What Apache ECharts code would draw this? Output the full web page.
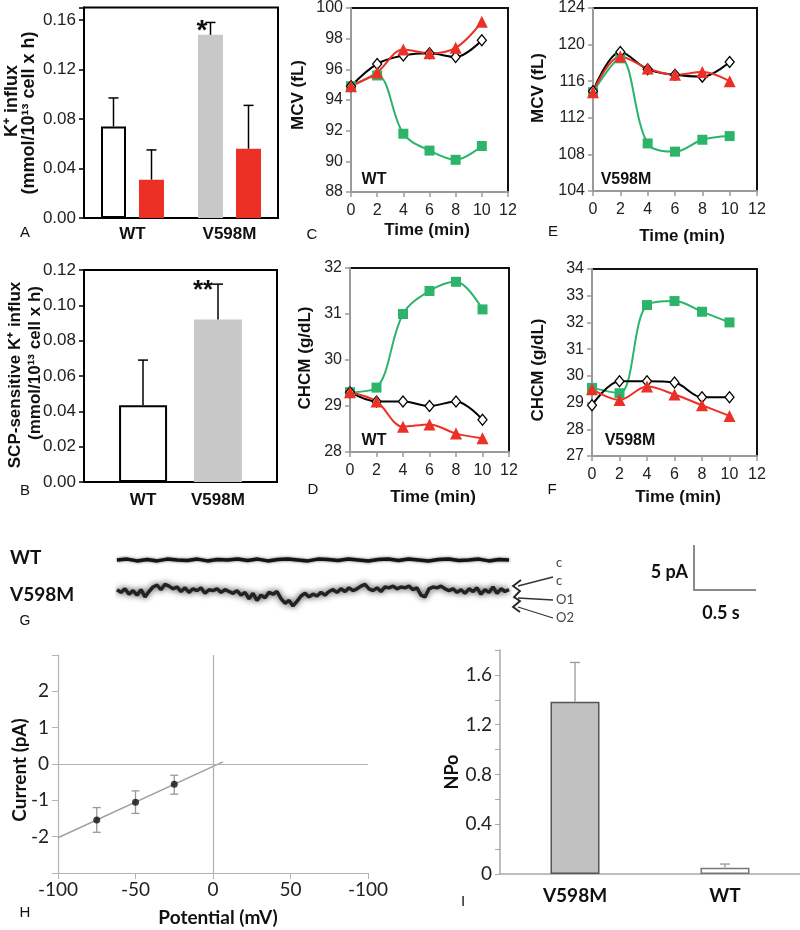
<!DOCTYPE html>
<html><head><meta charset="utf-8">
<script src="https://cdn.jsdelivr.net/npm/echarts@6/dist/echarts.min.js"></script>
<style>html,body{margin:0;padding:0;background:#fff}#c{width:800px;height:930px}</style>
</head><body><div id="c"></div>
<script>
// ---------- Panel A ----------
const aGroups = ['WT', 'V598M'];
const aBase = [0.074, 0.148];
const aBaseErr = [0.023, 0.010];
const aTreat = [0.031, 0.056];
const aTreatErr = [0.024, 0.035];
// ---------- Panel B ----------
const bGroups = ['WT', 'V598M'];
const bValues = [0.0435, 0.092];
const bErr = [0.0255, 0.020];
// ---------- Panels C-F ----------
const times = [0, 2, 4, 6, 8, 10];
const cBlack = [94.9, 96.35, 96.9, 97.05, 96.8, 97.9];
const cRed = [94.9, 95.8, 97.3, 97.05, 97.4, 99.1];
const cGreen = [94.9, 95.6, 91.8, 90.7, 90.1, 91.0];
const eBlack = [114.9, 119.2, 117.3, 116.7, 116.5, 118.1];
const eRed = [114.8, 118.7, 117.4, 116.7, 117.0, 116.0];
const eGreen = [114.8, 118.5, 109.2, 108.3, 109.6, 110.0];
const dBlack = [29.3, 29.1, 29.1, 29.0, 29.1, 28.7];
const dRed = [29.3, 29.1, 28.55, 28.6, 28.4, 28.3];
const dGreen = [29.3, 29.4, 31.0, 31.5, 31.7, 31.1];
const fBlack = [28.9, 29.8, 29.8, 29.75, 29.2, 29.2];
const fRed = [29.5, 29.1, 29.6, 29.3, 28.9, 28.5];
const fGreen = [29.55, 29.35, 32.65, 32.8, 32.4, 32.0];
// ---------- Panel G (single-channel traces, pA) ----------
const gWT = [0, 0.1, -0.1, 0.05, -0.1, 0.1, 0, -0.05, 0.1, -0.1, 0.05, 0, 0.1, -0.05, 0.1, -0.1, 0.05, 0.1, 0, -0.1,
  0.1, 0.05, -0.05, 0.1, 0, -0.1, 0.05, 0.1, -0.05, 0.1, 0, -0.1, 0.05, 0.1, -0.05, 0, 0.1, -0.1, 0.05, 0];
const gV598M = [-3.3, -3.6, -3.2, -3.8, -3.4, -3.9, -3.3, -4.1, -3.5, -3.0, -2.8, -3.3, -2.7, -2.9, -3.2, -3.0, -3.5, -3.1, -3.6, -3.2,
  -3.4, -3.1, -3.7, -3.3, -3.4, -3.2, -3.6, -3.3, -3.5, -3.7, -3.4, -3.9, -3.6, -4.3, -3.7, -4.5, -3.9, -4.2, -3.6, -3.8,
  -3.5, -4.3, -4.8, -4.5, -5.1, -4.6, -4.0, -3.7, -4.1, -3.8, -4.0, -3.6, -3.9, -3.5, -3.3, -3.6, -3.2, -3.5, -3.1, -3.4,
  -3.2, -2.9, -2.7, -3.2, -3.4, -3.1, -3.5, -3.0, -3.1, -2.9, -3.2, -3.0, -3.1, -2.9, -3.3, -3.1, -3.9, -4.1, -3.2, -3.0,
  -3.1, -2.9, -3.2, -3.4, -3.2, -3.6, -3.3, -3.7, -3.2, -3.5, -3.1, -3.8, -3.3, -3.6, -3.0, -3.7, -3.2, -3.5, -3.3];
const gStateLabels = ['c', 'c', 'O1', 'O2'];
// ---------- Panel H ----------
const hVoltage = [-75, -50, -25];
const hCurrent = [-1.54, -1.05, -0.56];
const hLow = [-1.88, -1.36, -0.83];
const hHigh = [-1.20, -0.74, -0.31];
const hFitX = [-100, 6.4];
const hFitY = [-2.03, 0.06];
const hXTickLabels = ['-100', '-50', '0', '50', '-100'];
// ---------- Panel I ----------
const iGroups = ['V598M', 'WT'];
const iValues = [1.385, 0.05];
const iErr = [0.315, 0.03];

// ---------- styling ----------
const FA = '"Liberation Sans", Arial, sans-serif';
const FL = 'Lato, "Open Sans", sans-serif';
const RED = '#ec3025', GREEN = '#2cb46b', GRAYBAR = '#c8c8c8';

function txt(x, y, text, font, align, rot, color) {
  return { type: 'text', x: x, y: y, rotation: rot || 0, z: 100,
    style: { text: text, font: font, fill: color || '#111', textAlign: align || 'center', textVerticalAlign: 'middle' } };
}
function ln(x1, y1, x2, y2, color, w) {
  return { type: 'line', z: 100, shape: { x1: x1, y1: y1, x2: x2, y2: y2 }, style: { stroke: color, lineWidth: w } };
}
function errRender(color, width, cap, offset, lowerCap) {
  return function (params, api) {
    const top = api.coord([api.value(0), api.value(2)]);
    const bot = api.coord([api.value(0), api.value(1)]);
    const x = top[0] + offset;
    const ch = [
      { type: 'line', shape: { x1: x, y1: bot[1], x2: x, y2: top[1] }, style: { stroke: color, lineWidth: width } },
      { type: 'line', shape: { x1: x - cap, y1: top[1], x2: x + cap, y2: top[1] }, style: { stroke: color, lineWidth: width } }
    ];
    if (lowerCap) ch.push({ type: 'line', shape: { x1: x - cap, y1: bot[1], x2: x + cap, y2: bot[1] }, style: { stroke: color, lineWidth: width } });
    return { type: 'group', children: ch };
  };
}
const markerStyles = {
  black: { symbol: 'diamond', symbolSize: [9, 11], itemStyle: { color: '#fff', borderColor: '#000', borderWidth: 1.3 }, lineStyle: { color: '#000', width: 2 } },
  red: { symbol: 'triangle', symbolSize: 12, itemStyle: { color: RED }, lineStyle: { color: RED, width: 2 } },
  green: { symbol: 'rect', symbolSize: 10, itemStyle: { color: GREEN }, lineStyle: { color: GREEN, width: 2 } }
};
function timeSeries(vals, kind, idx) {
  const s = markerStyles[kind];
  return { type: 'line', xAxisIndex: idx, yAxisIndex: idx, smooth: 0.35, showSymbol: true,
    symbol: s.symbol, symbolSize: s.symbolSize, itemStyle: s.itemStyle, lineStyle: s.lineStyle,
    data: times.map((t, i) => [t, vals[i]]), z: 3 };
}

// grids
const grids = [
  { left: 84, top: 7.6, width: 194, height: 210.4, show: true, borderColor: '#000', borderWidth: 2 },   // 0 A
  { left: 84, top: 270, width: 193, height: 212, show: true, borderColor: '#000', borderWidth: 2 },     // 1 B
  { left: 351, top: 5, width: 157, height: 187, show: true, borderColor: '#111', borderWidth: 2 },      // 2 C
  { left: 593, top: 6, width: 164, height: 185, show: true, borderColor: '#111', borderWidth: 2 },      // 3 E
  { left: 350, top: 268, width: 159, height: 184, show: true, borderColor: '#111', borderWidth: 2 },    // 4 D
  { left: 592, top: 269, width: 165, height: 187, show: true, borderColor: '#111', borderWidth: 2 },    // 5 F
  { left: 117, top: 551, width: 392, height: 63 },                                                      // 6 G
  { left: 58, top: 655, width: 310, height: 218 },                                                      // 7 H
  { left: 500, top: 650, width: 324, height: 224 }                                                      // 8 I
];

const blackAxis = { lineStyle: { color: '#000', width: 2 } };
function yBox(gi, min, max, interval, digits, fs) {
  return { type: 'value', gridIndex: gi, min: min, max: max, interval: interval,
    axisLine: { show: true, lineStyle: { color: '#000', width: 2 } },
    axisTick: { show: true, length: 5, lineStyle: { color: '#000', width: 1.5 } },
    splitLine: { show: false },
    axisLabel: { fontFamily: FA, fontSize: fs, color: '#222', margin: 8,
      formatter: v => (Math.abs(v / interval - Math.round(v / interval)) < 1e-6 ? v.toFixed(digits) : '') } };
}
function xTime(gi) {
  return { type: 'value', gridIndex: gi, min: 0, max: 12, interval: 2,
    axisLine: { show: true, onZero: false, lineStyle: { color: '#9a9a9a', width: 2 } },
    axisTick: { show: true, length: 5, lineStyle: { color: '#9a9a9a', width: 1.5 } },
    splitLine: { show: false },
    axisLabel: { fontFamily: FA, fontSize: 16, color: '#222', margin: 11 } };
}
function yTime(gi, min, max, interval) {
  return { type: 'value', gridIndex: gi, min: min, max: max, interval: interval,
    axisLine: { show: true, onZero: false, lineStyle: { color: '#9a9a9a', width: 2 } },
    axisTick: { show: true, length: 5, lineStyle: { color: '#9a9a9a', width: 1.5 } },
    splitLine: { show: false },
    axisLabel: { fontFamily: FA, fontSize: 16, color: '#222', margin: 8 } };
}

const xAxes = [
  { type: 'category', gridIndex: 0, data: aGroups, axisLine: blackAxis, axisTick: { show: false },
    axisLabel: { fontFamily: FA, fontWeight: 'bold', fontSize: 17, color: '#111', margin: 8 } },
  { type: 'category', gridIndex: 1, data: [''], axisLine: blackAxis, axisTick: { show: false }, axisLabel: { show: false } },
  xTime(2), xTime(3), xTime(4), xTime(5),
  { type: 'category', gridIndex: 6, data: gWT.map((_, i) => i), boundaryGap: false, show: false },
  { type: 'category', gridIndex: 6, data: gV598M.map((_, i) => i), boundaryGap: false, show: false, position: 'top' },
  { type: 'value', gridIndex: 7, min: -100, max: 100, interval: 50,
    axisLine: { show: true, onZero: false, lineStyle: { color: '#b4b4b4', width: 1.2 } },
    axisTick: { show: true, length: 6, lineStyle: { color: '#b4b4b4' } }, splitLine: { show: false },
    axisLabel: { fontFamily: FL, fontSize: 19, color: '#222', margin: 7, formatter: v => hXTickLabels[Math.round((v + 100) / 50)] } },
  { type: 'category', gridIndex: 8, data: iGroups,
    axisLine: { show: true, lineStyle: { color: '#a8a8a8', width: 1.5 } }, axisTick: { show: false },
    axisLabel: { fontFamily: FL, fontWeight: 'bold', fontSize: 19, color: '#111', margin: 12 } }
];
const yAxes = [
  yBox(0, 0, 0.17, 0.04, 2, 17),
  yBox(1, 0, 0.12, 0.02, 2, 17),
  yTime(2, 88, 100, 2),
  yTime(3, 104, 124, 4),
  yTime(4, 28, 32, 1),
  yTime(5, 27, 34, 1),
  { type: 'value', gridIndex: 6, min: -6, max: 1, show: false },
  { type: 'value', gridIndex: 7, min: -3, max: 3, interval: 1,
    axisLine: { show: true, onZero: false, lineStyle: { color: '#b4b4b4', width: 1.2 } },
    axisTick: { show: true, length: 6, lineStyle: { color: '#b4b4b4' } }, splitLine: { show: false },
    axisLabel: { fontFamily: FL, fontSize: 19, color: '#222', margin: 9, formatter: v => (Math.abs(v) === 3 ? '' : String(v)) } },
  { type: 'value', gridIndex: 8, min: 0, max: 1.8, interval: 0.2,
    axisLine: { show: true, lineStyle: { color: '#a8a8a8', width: 1.5 } },
    axisTick: { show: true, length: 5, lineStyle: { color: '#a8a8a8' } }, splitLine: { show: false },
    axisLabel: { fontFamily: FL, fontSize: 19, color: '#222', margin: 8,
      formatter: v => { const k = Math.round(v * 10); return k % 4 === 0 ? (k === 0 ? '0' : String(+v.toFixed(1))) : ''; } } }
];

const series = [
  // A bars
  { type: 'bar', xAxisIndex: 0, yAxisIndex: 0, barWidth: 25, barGap: '52%',
    data: aBase.map((v, i) => ({ value: v, itemStyle: i === 0 ? { color: '#fff', borderColor: '#000', borderWidth: 2 } : { color: GRAYBAR } })) },
  { type: 'bar', xAxisIndex: 0, yAxisIndex: 0, barWidth: 25, barGap: '52%', itemStyle: { color: RED }, data: aTreat },
  { type: 'custom', xAxisIndex: 0, yAxisIndex: 0, renderItem: errRender('#000', 1.5, 5, -19, false), z: 5,
    data: aBase.map((v, i) => [i, v, v + aBaseErr[i]]) },
  { type: 'custom', xAxisIndex: 0, yAxisIndex: 0, renderItem: errRender('#000', 1.5, 5, 19, false), z: 5,
    data: aTreat.map((v, i) => [i, v, v + aTreatErr[i]]) },
  // B bars (one category, two series)
  { type: 'bar', name: bGroups[0], xAxisIndex: 1, yAxisIndex: 1, barWidth: 48, barGap: '56%',
    itemStyle: { color: '#fff', borderColor: '#000', borderWidth: 2 }, data: [bValues[0]],
    label: { show: true, position: 'bottom', distance: 10, formatter: '{a}', fontFamily: FA, fontWeight: 'bold', fontSize: 17, color: '#111' } },
  { type: 'bar', name: bGroups[1], xAxisIndex: 1, yAxisIndex: 1, barWidth: 48, barGap: '56%',
    itemStyle: { color: GRAYBAR }, data: [bValues[1]],
    label: { show: true, position: 'bottom', distance: 10, formatter: '{a}', fontFamily: FA, fontWeight: 'bold', fontSize: 17, color: '#111' } },
  { type: 'custom', xAxisIndex: 1, yAxisIndex: 1, renderItem: errRender('#000', 1.5, 5, -37.5, false), z: 5,
    data: [[0, bValues[0], bValues[0] + bErr[0]]] },
  { type: 'custom', xAxisIndex: 1, yAxisIndex: 1, renderItem: errRender('#000', 1.5, 5, 37.5, false), z: 5,
    data: [[0, bValues[1], bValues[1] + bErr[1]]] },
  // C (idx 2), E (3), D (4), F (5)
  timeSeries(cGreen, 'green', 2), timeSeries(cBlack, 'black', 2), timeSeries(cRed, 'red', 2),
  timeSeries(eGreen, 'green', 3), timeSeries(eBlack, 'black', 3), timeSeries(eRed, 'red', 3),
  timeSeries(dGreen, 'green', 4), timeSeries(dBlack, 'black', 4), timeSeries(dRed, 'red', 4),
  timeSeries(fGreen, 'green', 5), timeSeries(fBlack, 'black', 5), timeSeries(fRed, 'red', 5),
  // G traces
  { type: 'line', xAxisIndex: 6, yAxisIndex: 6, showSymbol: false, data: gWT,
    lineStyle: { color: '#151515', width: 3.5, shadowBlur: 3, shadowColor: 'rgba(0,0,0,0.6)' } },
  { type: 'line', xAxisIndex: 7, yAxisIndex: 6, showSymbol: false, data: gV598M,
    lineStyle: { color: '#222', width: 3.5, shadowBlur: 6, shadowColor: 'rgba(0,0,0,0.8)' } },
  // H
  { type: 'line', xAxisIndex: 8, yAxisIndex: 7, showSymbol: false, data: hFitX.map((x, i) => [x, hFitY[i]]),
    lineStyle: { color: '#a0a0a0', width: 1.5 },
    markLine: { silent: true, symbol: 'none', label: { show: false }, lineStyle: { color: '#b0b0b0', width: 1.2, type: 'solid' },
      data: [{ yAxis: 0 }, { xAxis: 0 }] } },
  { type: 'custom', xAxisIndex: 8, yAxisIndex: 7, renderItem: errRender('#999', 1.3, 4, 0, true), z: 4,
    data: hVoltage.map((x, i) => [x, hLow[i], hHigh[i]]) },
  { type: 'scatter', xAxisIndex: 8, yAxisIndex: 7, symbolSize: 7, itemStyle: { color: '#111' }, z: 6,
    data: hVoltage.map((x, i) => [x, hCurrent[i]]) },
  // I
  { type: 'bar', xAxisIndex: 9, yAxisIndex: 8, barWidth: 49,
    data: iValues.map((v, i) => ({ value: v, itemStyle: i === 0 ? { color: '#c0c0c0', borderColor: '#555', borderWidth: 1.5 } : { color: '#fff', borderColor: '#777', borderWidth: 1.5 } })) },
  { type: 'custom', xAxisIndex: 9, yAxisIndex: 8, renderItem: errRender('#999', 1.3, 5, 0, false), z: 5,
    data: iValues.map((v, i) => [i, v, v + iErr[i]]) }
];

const BF = s => 'bold ' + s + 'px ' + FA;
const RF = s => s + 'px ' + FA;
const LB = s => 'bold ' + s + 'px ' + FL;
const LR = s => s + 'px ' + FL;
const R90 = Math.PI / 2;
const graphics = [
  // A
  txt(12, 101, 'K\u207A influx', BF(18), 'center', R90),
  txt(29, 113, '(mmol/10\u00B9\u00B3 cell x h)', BF(18), 'center', R90),
  txt(25, 233, 'A', RF(15)),
  txt(202, 31, '*', BF(28)),
  // B
  txt(15, 375, 'SCP-sensitive K\u207A influx', BF(17), 'center', R90),
  txt(35, 363, '(mmol/10\u00B9\u00B3 cell x h)', BF(17), 'center', R90),
  txt(25, 491, 'B', RF(15)),
  txt(203, 291, '**', BF(26)),
  // C
  txt(298, 95, 'MCV (fL)', BF(17), 'center', R90),
  txt(427, 230, 'Time (min)', BF(17)),
  txt(312, 235, 'C', RF(15)),
  txt(374, 180, 'WT', BF(16)),
  // E
  txt(538, 88, 'MCV (fL)', BF(17), 'center', R90),
  txt(682, 236, 'Time (min)', BF(17)),
  txt(553, 232, 'E', RF(15)),
  txt(626, 180, 'V598M', BF(16)),
  // D
  txt(305, 358, 'CHCM (g/dL)', BF(17), 'center', R90),
  txt(433, 497, 'Time (min)', BF(17)),
  txt(313, 490, 'D', RF(15)),
  txt(374, 441, 'WT', BF(16)),
  // F
  txt(538, 370, 'CHCM (g/dL)', BF(17), 'center', R90),
  txt(678, 497, 'Time (min)', BF(17)),
  txt(552, 490, 'F', RF(15)),
  txt(630, 441, 'V598M', BF(16)),
  // G
  txt(10, 558, 'WT', LB(19), 'left'),
  txt(10, 595, 'V598M', LB(19), 'left'),
  txt(25, 621, 'G', RF(14)),
  { type: 'polyline', z: 100, shape: { points: [[521, 580], [513, 586], [520, 591], [514, 597], [520, 601], [513, 607], [520, 612]] },
    style: { stroke: '#222', fill: null, lineWidth: 1.8 } },
  ln(518, 586, 553, 577, '#333', 1.3),
  ln(518, 598, 553, 600, '#333', 1.3),
  ln(518, 607, 553, 618, '#333', 1.3),
  txt(556, 563, gStateLabels[0], LR(13), 'left', 0, '#444'),
  txt(556, 581, gStateLabels[1], LR(13), 'left', 0, '#444'),
  txt(556, 600, gStateLabels[2], LR(13), 'left', 0, '#444'),
  txt(556, 618, gStateLabels[3], LR(13), 'left', 0, '#444'),
  ln(694, 545, 694, 591, '#8a8a8a', 2),
  ln(693, 590, 756, 590, '#8a8a8a', 2),
  txt(688, 572, '5 pA', LB(18), 'right'),
  txt(721, 613, '0.5 s', LB(18)),
  // H
  txt(20, 770, 'Current (pA)', LB(19), 'center', R90),
  txt(218, 918, 'Potential (mV)', LB(19)),
  txt(25, 913, 'H', RF(15)),
  // I
  txt(452, 772, 'NPo', LB(18), 'center', R90),
  txt(463, 902, 'I', RF(15))
];

const chart = echarts.init(document.getElementById('c'), null, { renderer: 'canvas' });
chart.setOption({
  backgroundColor: '#fff',
  animation: false,
  grid: grids,
  xAxis: xAxes,
  yAxis: yAxes,
  series: series,
  graphic: graphics
});
</script></body></html>
